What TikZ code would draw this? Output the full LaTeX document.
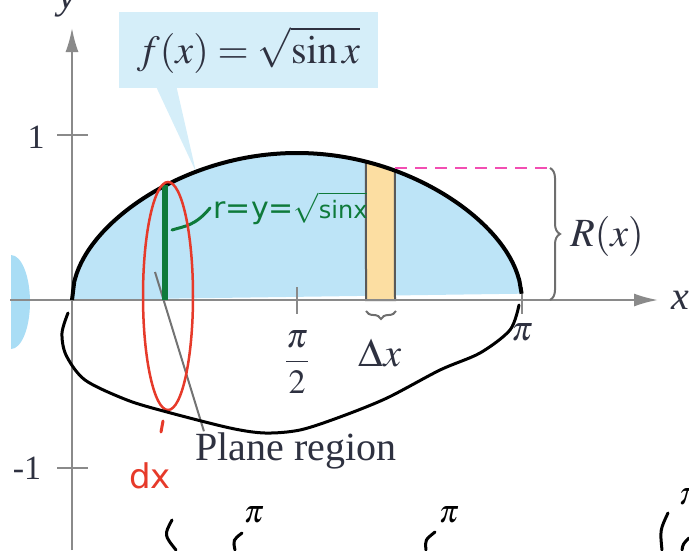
\documentclass[tikz,border=0pt]{standalone}
\usepackage{amsmath}
\usepackage{mathptmx}
\usepackage{fontspec}
\setmainfont{Liberation Serif}
\newfontfamily\hand{DejaVu Sans}
\usetikzlibrary{arrows.meta,decorations.pathreplacing,calc}
\definecolor{axgray}{HTML}{8A8A8A}
\definecolor{txt}{HTML}{2E3140}
\definecolor{skyfill}{HTML}{BDE4F7}
\definecolor{callfill}{HTML}{D5EEF9}
\definecolor{dropfill}{HTML}{A9DDF5}
\definecolor{stripfill}{HTML}{FCDEA2}
\definecolor{pinkdash}{HTML}{F24DB2}
\definecolor{inkgreen}{HTML}{0E7A3A}
\definecolor{inkred}{HTML}{E63A2A}
\tikzset{
  axis/.style ={draw=axgray,line width=2pt,-{Latex[length=24pt,width=13pt]}},
  tck/.style  ={draw=axgray,line width=1.6pt},
  lab/.style  ={font=\fontsize{34}{36}\selectfont,text=txt},
  big/.style  ={font=\fontsize{40}{44}\selectfont,text=txt},
  brc/.style  ={decorate,draw=axgray!80!black,line width=2pt},
  ink/.style  ={line width=3pt,line cap=round},
  pimark/.style={font=\fontsize{32}{34}\selectfont},
  declare function={fx(\t)=72+143.2*\t; fy(\t)=300-147*sqrt(abs(sin(\t r)));},
}

\begin{document}
\begin{tikzpicture}[x=1pt,y=-1pt]
  \useasboundingbox (0,0) rectangle (689,550);
  % callout with its pointer
  \node[fill=callfill,minimum width=259pt,minimum height=76pt,inner sep=0pt,
        font=\fontsize{40}{44}\selectfont,text=txt] (fbox) at (248.5,50) {$f(x) = \sqrt{\sin x}$};
  \coordinate (ftip) at (196,172);
  \fill[callfill] ([xshift=38pt]fbox.south west) -- (ftip) -- ([xshift=58pt]fbox.south west) -- cycle;
  % plane region
  \fill[skyfill] plot[domain=0:3.1415,samples=200] ({fx(\x)},{fy(\x)}) -- cycle;
  \fill[dropfill] (11,255) arc[start angle=-90,end angle=90,x radius=19,y radius=47] -- cycle;
  \filldraw[fill=stripfill,draw=black!65,line width=2pt]
    (366,300) -- plot[domain=2.053:2.255,samples=20] ({fx(\x)},{fy(\x)}) -- (395,300) -- cycle;
  \coordinate (pr) at (155,272);
  % axes
  \coordinate (xs) at (10,300);  \coordinate (xe) at (658,300);
  \coordinate (ys) at (72,550);  \coordinate (ye) at (72,28);
  \draw[axis] (xs) -- (xe);
  \draw[axis] (ys) -- (ye);
  \node[big,font=\fontsize{40}{44}\selectfont\itshape] (xl) at (680,300) {x};
  \node[big,font=\fontsize{40}{44}\selectfont\itshape,anchor=base] (yl) at (67,8) {y};
  \draw[tck] (57,135) -- (88,135);
  \draw[tck] (57,468) -- (88,468);
  \draw[tck] (297,287) -- (297,314);
  \draw[tck] (522,287) -- (522,314);
  \node[lab] (one) at (36,137) {1};
  \node[lab] (mone) at (27,468) {-1};
  \node[lab] (half) at (297,362) {$\dfrac{\pi}{2}$};
  \node[lab] (pil) at (522,332) {$\pi$};
  % curve, strip and braces
  \draw[line width=4pt] plot[domain=0:3.1415,samples=200] ({fx(\x)},{fy(\x)});
  \coordinate (rt) at (395,168);
  \coordinate (rb) at (550,168);
  \draw[pinkdash,line width=2.5pt,dash pattern=on 12pt off 8pt] (rt) -- (rb);
  \draw[brc,decoration={brace,amplitude=10pt}] (rb) -- (550,300);
  \node[big] (rx) at (607,236) {$R(x)$};
  \draw[brc,decoration={brace,amplitude=8pt}] (396,311) -- (366,311);
  \node[big] (dx) at (380,353) {$\Delta x$};
  \node[big] (plane) at (296,451) {Plane region};
  \draw[draw=black!55,line width=2pt] (pr) -- ([xshift=12pt,yshift=-2pt]plane.north west);
  % handwriting on top
  \coordinate (gbot) at (165,300);
  \coordinate (gtop) at (165,185);
  \draw[inkgreen,line width=6pt] (gbot) -- (gtop);
  \node[text=inkgreen,font=\hand\fontsize{30}{32}\selectfont,anchor=west] (rlab) at (210,208)
       {r=y=$\sqrt{\mbox{\hand\fontsize{24}{26}\selectfont sinx}}$};
  \draw[inkgreen,ink] (172,230) .. controls (185,226) and (195,226) .. (rlab.west);
  \draw[inkred,line width=2.5pt] (168,296) ellipse[x radius=25,y radius=114];
  \draw[inkred,ink] (163,421) -- (161,432);
  \node[text=inkred,font=\hand\fontsize{34}{36}\selectfont] (dxl) at (150,476) {dx};
  \draw[ink] plot[smooth] coordinates {(68,313) (62,333) (66,355) (85,380) (127,400)
    (167,412) (230,428) (265,433) (300,430) (340,417) (387,398) (440,370) (480,353)
    (510,330) (519,305)};
  % scraps of writing at the bottom
  \draw[ink] (172,520) .. controls (164,535) .. (176,550);
  \draw[ink] (242,533) .. controls (233,540) .. (235,550);
  \draw[ink] (435,532) .. controls (425,540) .. (426,550);
  \draw[ink] (668,513) .. controls (660,530) .. (662,550);
  \draw[ink] (689,538) .. controls (683,544) .. (682,550);
  \node[pimark] (p1) at (254,515) {$\boldsymbol{\pi}$};
  \node[pimark] (p2) at (449,515) {$\boldsymbol{\pi}$};
  \node[pimark] (p3) at (689,497) {$\boldsymbol{\pi}$};
\end{tikzpicture}
\end{document}
